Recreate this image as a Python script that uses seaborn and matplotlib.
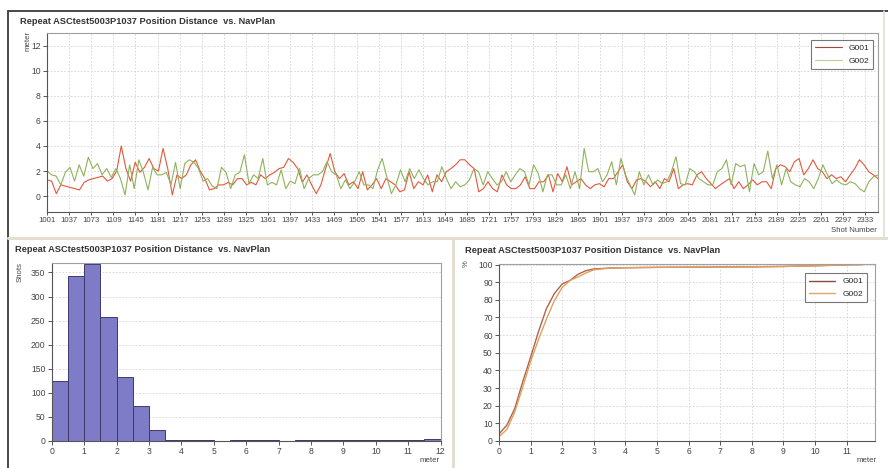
import numpy as np
import pandas as pd
import matplotlib
matplotlib.use("Agg")
import matplotlib.pyplot as plt
import seaborn as sns
from matplotlib.lines import Line2D

# ---- data ----
TITLE = "Repeat ASCtest5003P1037 Position Distance  vs. NavPlan"
SHOT_FIRST, SHOT_LAST = 1001, 2354
shot_ticks = list(range(1001, 2334, 36))

# position distance per shot (sampled along the shot axis), metres
g001_dist = [
    1.3, 1.2, 0.2, 0.9, 0.8, 0.7, 0.6, 0.5, 1.1, 1.3, 1.4, 1.5, 1.6, 1.2, 1.4, 2.0, 4.0, 2.2, 1.2, 2.7,
    1.9, 2.3, 3.0, 2.2, 2.0, 3.8, 2.2, 0.1, 1.7, 1.4, 1.7, 2.5, 2.9, 2.0, 1.4, 0.5, 0.6, 0.9, 0.9, 1.1,
    0.9, 1.4, 1.4, 0.9, 1.1, 0.9, 1.7, 1.4, 1.7, 1.9, 2.2, 2.3, 3.0, 2.7, 2.2, 1.1, 1.7,
    0.9, 0.2, 0.9, 2.2, 3.4, 1.95, 1.4, 1.8, 0.9, 1.15, 0.6, 1.95, 0.5, 0.9, 1.4, 0.6, 1.4, 1.15, 0.9, 0.35,
    0.5, 1.95, 0.6, 1.15, 0.9, 1.7, 0.35, 1.7, 1.15, 1.95, 2.2, 2.5, 2.9, 2.9, 2.5, 2.2, 0.35, 0.6, 1.15, 0.6,
    0.35, 1.7, 0.9, 0.6, 0.6, 0.9, 1.55, 0.6, 0.6, 1.15, 1.15, 1.7, 0.35, 1.8, 1.15, 2.35, 0.9, 1.15, 1.4, 0.9,
    0.6,
    0.9, 1.0, 0.75, 1.4, 1.4, 1.95, 2.5, 1.15, 0.6, 1.3, 1.4, 1.15, 0.75, 1.15, 0.6, 1.4, 1.15, 2.2, 0.6, 0.9,
    1.0, 0.9, 1.7, 1.95, 1.4, 1.0, 0.6, 0.9, 1.15, 1.4, 0.6, 1.15, 0.6, 0.9, 1.3, 0.9, 1.15, 1.15, 0.6, 2.2,
    2.5, 2.35, 1.95, 2.75, 3.0, 1.7, 2.2, 2.9, 2.2, 1.95, 1.4, 1.7, 1.4, 1.55, 1.15, 1.7, 2.2, 2.9, 2.5, 1.95,
    1.7, 1.4,
]
g002_dist = [
    2.0, 1.7, 1.6, 0.9, 1.9, 2.3, 1.2, 2.5, 1.6, 3.1, 2.2, 2.6, 1.7, 2.2, 1.5, 2.2, 1.4, 0.1, 2.5, 0.6,
    2.9, 1.9, 0.5, 2.3, 1.7, 1.7, 1.9, 0.9, 2.7, 0.6, 2.6, 2.9, 2.7, 2.2, 1.2, 1.4, 0.8, 0.6, 2.3, 1.9,
    0.6, 1.7, 1.9, 3.3, 1.0, 1.7, 1.4, 3.0, 0.9, 1.1, 0.9, 2.1, 0.6, 1.2, 1.0, 2.2, 0.6, 1.4,
    1.7, 1.7, 1.95, 2.75, 1.95, 1.7, 0.6, 1.3, 0.6, 1.15, 1.95, 0.9, 0.9, 0.6, 2.1, 3.0, 1.55, 0.2, 0.9, 2.1,
    1.15, 2.2, 1.4, 2.1, 1.4, 0.9, 1.15, 1.15, 2.35, 1.4, 0.6, 1.15, 0.75, 0.9, 1.3, 2.2, 1.95, 0.9, 1.95, 1.4,
    0.9, 1.15, 1.95, 1.15, 1.7, 2.2, 1.95, 0.9, 2.5, 1.8, 0.35, 1.7, 1.7, 0.9, 0.9, 1.7, 0.6, 1.95, 0.6, 3.8,
    1.95,
    1.95, 2.2, 1.15, 1.7, 2.75, 0.9, 3.0, 1.7, 0.9, 0.1, 1.95, 0.9, 1.7, 0.9, 1.3, 1.0, 1.15, 1.95, 3.15, 1.0,
    0.9, 2.2, 1.95, 1.4, 1.15, 0.9, 0.9, 1.95, 2.2, 2.9, 0.9, 2.6, 2.35, 2.5, 0.35, 2.6, 1.7, 1.95, 3.6, 1.4,
    2.5, 0.9, 2.2, 1.15, 0.9, 0.75, 1.4, 1.15, 0.6, 1.4, 2.5, 1.7, 1.0, 1.3, 1.0, 0.9, 1.15, 1.0, 0.6, 0.35,
    1.15, 1.55, 1.7,
]

# histogram of distances (0.5 m bins)
hist_left = [0, 0.5, 1, 1.5, 2, 2.5, 3, 3.5, 4, 4.5, 5, 5.5, 6, 6.5, 7, 7.5, 8, 8.5, 9, 9.5, 10, 10.5, 11, 11.5]
hist_counts = [125, 343, 368, 257, 133, 73, 22, 3, 3, 3, 1, 3, 2, 2, 1, 3, 2, 3, 2, 3, 2, 3, 3, 5]

# cumulative percentage
cdf_x = [0, 0.25, 0.5, 0.75, 1.0, 1.25, 1.5, 1.75, 2.0, 2.25, 2.5, 2.75, 3.0, 3.5, 4, 5, 6, 7, 8, 9, 10, 11, 11.5]
g001_cdf = [4, 9, 18.5, 33.5, 47.5, 62, 75, 83.5, 89, 91, 94.5, 96.5, 97.5, 98, 98.2, 98.4, 98.5, 98.6, 98.7, 98.9, 99.3, 99.8, 100]
g002_cdf = [2.5, 6.5, 16.5, 30.5, 45, 57.5, 69, 79.5, 87, 91, 93, 95.2, 97, 98, 98.2, 98.4, 98.5, 98.6, 98.7, 98.9, 99.3, 99.8, 100]

W, H = 888, 468

sns.set_style("ticks")
plt.rcParams["font.family"] = ["Liberation Sans", "DejaVu Sans"]
plt.rcParams["axes.linewidth"] = 0.8


def fx(px):
    return px / W


def fy(py):
    return 1 - py / H


def style_axes(ax, ygrid=True, xgrid=True):
    for s in ["left", "bottom"]:
        ax.spines[s].set_color("#555555")
    for s in ["top", "right"]:
        ax.spines[s].set_color("#a0a0a0")
    ax.tick_params(direction="out", length=3, width=0.7, labelsize=6.2,
                   colors="#555555", labelcolor="#444444", pad=1.5)
    grid_kw = dict(color="#d4d4d4", linestyle=(0, (2, 2)), linewidth=0.6)
    if ygrid:
        ax.yaxis.grid(True, **grid_kw)
    if xgrid:
        ax.xaxis.grid(True, **grid_kw)
    ax.set_axisbelow(True)
    ax.set_xlabel("")
    ax.set_ylabel("")


fig = plt.figure(figsize=(W / 100, H / 100), dpi=100)
fig.patch.set_facecolor("white")

# ---- top: distance per shot ----
ax1 = fig.add_axes([fx(47), fy(212.5), fx(878) - fx(47), fy(33) - fy(212.5)])
x1 = np.linspace(SHOT_FIRST, SHOT_LAST, len(g001_dist))
x2 = np.linspace(SHOT_FIRST, SHOT_LAST, len(g002_dist))
sns.lineplot(x=x1, y=g001_dist, ax=ax1, color="#e4573b", linewidth=0.8, label="G001")
sns.lineplot(x=x2, y=g002_dist, ax=ax1, color="#8db35a", linewidth=0.8, label="G002")
ax1.set_xlim(SHOT_FIRST, SHOT_LAST)
ax1.set_ylim(-1.3, 13)
ax1.set_yticks([0, 2, 4, 6, 8, 10, 12])
ax1.set_xticks(shot_ticks)
ax1.set_xticklabels([str(t) for t in shot_ticks])
style_axes(ax1)
ax1.tick_params(axis="x", labelsize=5.6, length=2.5, pad=1)
leg = ax1.legend(loc="upper right", bbox_to_anchor=(0.9995, 0.985), fontsize=6, frameon=True,
                 fancybox=False, edgecolor="#555555", handlelength=3.2, borderpad=0.5,
                 labelspacing=0.6, handletextpad=0.8)
leg.get_frame().set_linewidth(0.8)
leg.get_lines()[0].set_color("#a8453f")
leg.get_lines()[1].set_color("#b9cf93")

# ---- bottom left: histogram ----
hist_df = pd.DataFrame({"meter": hist_left, "shots": hist_counts})
ax2 = fig.add_axes([fx(51.7), fy(441), fx(440.7) - fx(51.7), fy(263.3) - fy(441)])
sns.histplot(data=hist_df, x="meter", weights="shots", binwidth=0.5, binrange=(0, 12), ax=ax2,
             color="#7e7cc6", edgecolor="#3b3a6b", linewidth=0.7, alpha=1)
ax2.set_xlim(0, 12)
ax2.set_ylim(0, 369)
ax2.set_xticks(range(0, 13))
ax2.set_yticks(range(0, 351, 50))
style_axes(ax2, xgrid=False)

# ---- bottom right: cumulative percentage ----
ax3 = fig.add_axes([fx(499), fy(441), fx(875) - fx(499), fy(264) - fy(441)])
sns.lineplot(x=cdf_x, y=g001_cdf, ax=ax3, color="#b0644a", linewidth=1.0, label="G001")
sns.lineplot(x=cdf_x, y=g002_cdf, ax=ax3, color="#e0a060", linewidth=1.0, label="G002")
ax3.set_xlim(0, 11.9)
ax3.set_ylim(0, 100.3)
ax3.set_xticks(range(0, 12))
ax3.set_yticks(range(0, 101, 10))
style_axes(ax3)
leg3 = ax3.legend(loc="upper right", bbox_to_anchor=(0.99, 0.97), fontsize=6, frameon=True,
                  fancybox=False, edgecolor="#555555", handlelength=3.2, borderpad=0.5,
                  labelspacing=0.6, handletextpad=0.8)
leg3.get_frame().set_linewidth(0.8)
leg3.get_lines()[0].set_color("#8e4b3c")
leg3.get_lines()[1].set_color("#e2a666")

# ---- titles and axis captions ----
title_kw = dict(fontsize=6.7, fontweight="bold", color="#333333", va="center", ha="left")
fig.text(fx(20), fy(21), TITLE, **title_kw)
fig.text(fx(15), fy(250), TITLE, **title_kw)
fig.text(fx(465), fy(250.5), TITLE, **title_kw)

cap_kw = dict(fontsize=5.6, color="#444444")
fig.text(fx(28), fy(31), "meter", rotation=90, ha="center", va="top", **cap_kw)
fig.text(fx(20), fy(262), "Shots", rotation=90, ha="center", va="top", **cap_kw)
fig.text(fx(466), fy(264), "%", rotation=90, ha="center", va="center", **cap_kw)
fig.text(fx(877), fy(230), "Shot Number", ha="right", va="center", **cap_kw)
fig.text(fx(440), fy(460), "meter", ha="right", va="center", **cap_kw)
fig.text(fx(877), fy(460), "meter", ha="right", va="center", **cap_kw)

# ---- panel frames ----
fig.add_artist(Line2D([fx(8), fx(888)], [fy(11), fy(11)], color="#3a3a3a", linewidth=1.3))
fig.add_artist(Line2D([fx(8), fx(8)], [fy(11), fy(468)], color="#3a3a3a", linewidth=1.3))
fig.add_artist(Line2D([fx(8), fx(888)], [fy(238), fy(238)], color="#e2ded2", linewidth=2.2))
fig.add_artist(Line2D([fx(453), fx(453)], [fy(238), fy(468)], color="#e2ded2", linewidth=2.2))
fig.add_artist(Line2D([fx(884), fx(884)], [fy(11), fy(238)], color="#e2ded2", linewidth=1.2))

fig.savefig("out.png", dpi=100)
